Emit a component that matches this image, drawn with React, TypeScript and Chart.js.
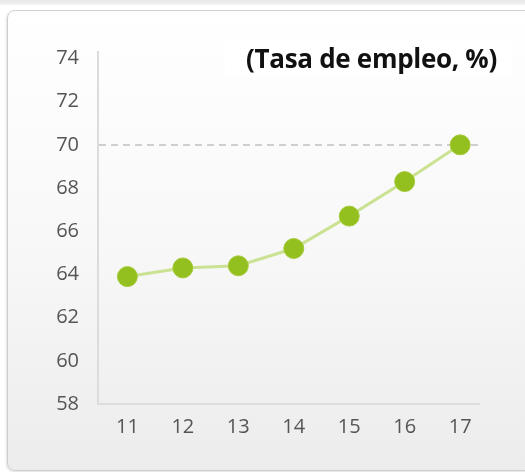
import React, { useEffect, useRef } from "react";
import { Chart, registerables } from "chart.js";

Chart.register(...registerables);

const years = [11, 12, 13, 14, 15, 16, 17];
const employmentRate = [63.9, 64.3, 64.4, 65.2, 66.7, 68.3, 70.0];
const yTicks = [58, 60, 62, 64, 66, 68, 70, 72, 74];
const targetLine = 70;
const titleText = "(Tasa de empleo, %)";

export default function App() {
  const ref = useRef<HTMLCanvasElement | null>(null);

  useEffect(() => {
    const canvas = ref.current;
    if (!canvas) return;
    document.body.style.overflow = "hidden";
    const chart = new Chart(canvas, {
      type: "line",
      data: {
        datasets: [
          {
            data: years.map((x, i) => ({ x, y: employmentRate[i] })),
            borderColor: "#cbe293",
            borderWidth: 3,
            pointRadius: 10,
            pointHoverRadius: 10,
            pointBackgroundColor: "#93bf1f",
            pointBorderColor: "#a5ca3c",
            pointBorderWidth: 1,
            tension: 0,
          },
        ],
      },
      options: {
        animation: false,
        responsive: false,
        maintainAspectRatio: false,
        layout: { padding: { left: 0, top: 52, right: 46, bottom: 0 } },
        plugins: { legend: { display: false }, tooltip: { enabled: false } },
        scales: {
          x: {
            type: "linear",
            min: 10.47,
            max: 17.34,
            afterBuildTicks: (s: any) => {
              s.ticks = years.map((v) => ({ value: v }));
            },
            afterFit: (s: any) => {
              s.height = 68;
            },
            grid: { display: false, drawTicks: false },
            border: { display: true, color: "#dcdcdc", width: 2 },
            ticks: {
              padding: 11,
              color: "#555",
              font: { family: "'Open Sans'", size: 20 },
              callback: (v: any) => String(v),
            },
          },
          y: {
            type: "linear",
            min: 58,
            max: 74.3,
            afterBuildTicks: (s: any) => {
              s.ticks = yTicks.map((v) => ({ value: v }));
            },
            afterFit: (s: any) => {
              s.width = 98;
            },
            grid: {
              drawTicks: false,
              color: (ctx: any) =>
                ctx.tick && ctx.tick.value === targetLine ? "#cfcfcf" : "rgba(0,0,0,0)",
              lineWidth: 2,
            },
            border: { display: true, color: "#dcdcdc", width: 2, dash: [7, 5] },
            ticks: {
              padding: 19,
              color: "#555",
              font: { family: "'Open Sans'", size: 20 },
              callback: (v: any) => String(v),
            },
          },
        },
      },
    });
    return () => chart.destroy();
  }, []);

  return (
    <div
      style={{
        position: "fixed",
        left: 0,
        top: 0,
        width: 525,
        height: 472,
        overflow: "hidden",
        background: "#ffffff",
      }}
    >
      <div
        style={{
          position: "absolute",
          left: 0,
          top: 0,
          width: 525,
          height: 5,
          background: "linear-gradient(#e6e6e6, #f4f4f4)",
        }}
      />
      <div
        style={{
          position: "absolute",
          left: 7,
          top: 10,
          width: 540,
          height: 459,
          border: "1px solid #cfcfcf",
          borderRadius: 8,
          background: "linear-gradient(#ffffff 0%, #f8f8f8 50%, #ececec 100%)",
          boxShadow: "-1px 1px 2px rgba(0,0,0,0.12)",
        }}
      />
      <canvas
        ref={ref}
        width={525}
        height={472}
        style={{ position: "absolute", left: 0, top: 0, width: 525, height: 472 }}
      />
      <div
        style={{
          position: "absolute",
          right: 525 - 512,
          top: 41,
          width: 287,
          height: 36,
          background: "#ffffff",
          fontFamily: "'Open Sans', sans-serif",
          fontWeight: 700,
          fontSize: 26,
          lineHeight: "34px",
          textAlign: "right",
          paddingRight: 15,
          boxSizing: "border-box",
          color: "#111",
          whiteSpace: "nowrap",
          letterSpacing: -0.3,
        }}
      >
        {titleText}
      </div>
    </div>
  );
}
